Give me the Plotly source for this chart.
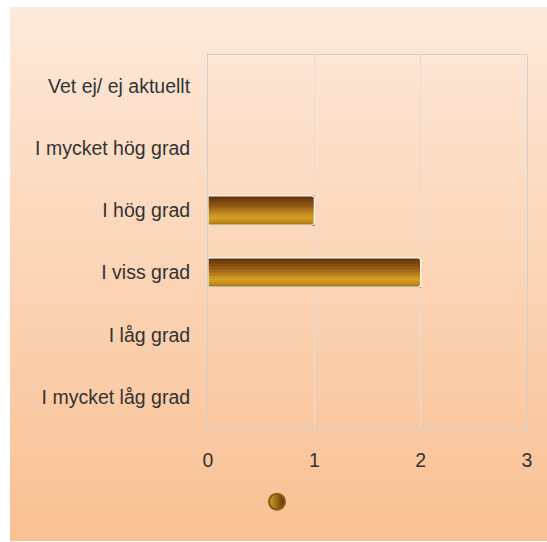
import zlib, struct, base64
import plotly.graph_objects as go

# ---- data ----
categories = ["I mycket låg grad", "I låg grad", "I viss grad",
              "I hög grad", "I mycket hög grad", "Vet ej/ ej aktuellt"]
values = [0, 0, 2, 1, 0, 0]
x_tickvals = [0, 1, 2, 3]

# ---- layout geometry (body margin removed by post_script) ----
OFF = 0
W, H = 547 - OFF, 542 - OFF
L, R, T, B = 208 - OFF, 547 - 527, 55 - OFF, 542 - 428
pw, ph = W - L - R, H - T - B


def lerp(c1, c2, t):
    return tuple(int(round(a + (b - a) * t)) for a, b in zip(c1, c2))


def grad(stops, t):
    for (t0, c0), (t1, c1) in zip(stops, stops[1:]):
        if t <= t1:
            return lerp(c0, c1, (t - t0) / (t1 - t0) if t1 > t0 else 0)
    return stops[-1][1]


# background gradient image (1 x N png)
bg_top, bg_bot = (253, 233, 218), (249, 192, 146)
NROW = 256
rows = [lerp(bg_top, bg_bot, i / (NROW - 1)) for i in range(NROW)]
raw = b"".join(b"\x00" + bytes(c) for c in rows)


def chunk(tag, data):
    return struct.pack(">I", len(data)) + tag + data + struct.pack(">I", zlib.crc32(tag + data) & 0xffffffff)


png = (b"\x89PNG\r\n\x1a\n" + chunk(b"IHDR", struct.pack(">IIBBBBB", 1, NROW, 8, 2, 0, 0, 0))
       + chunk(b"IDAT", zlib.compress(raw)) + chunk(b"IEND", b""))
bg_uri = "data:image/png;base64," + base64.b64encode(png).decode()

# screen pixel -> paper coords
px2x = lambda p: (p - OFF - L) / pw
px2y = lambda p: (H - B - (p - OFF)) / ph

fig = go.Figure()

# bar vertical gradient, top -> bottom
bar_stops = [(0.0, (96, 48, 10)), (0.35, (150, 92, 20)), (0.72, (214, 160, 36)),
             (0.86, (196, 142, 28)), (1.0, (140, 92, 14))]
N = 20
bar_w = 0.47
sw = bar_w / N
for i in range(N):
    t_from_top = 1 - (i + 0.5) / N
    c = grad(bar_stops, t_from_top)
    fig.add_trace(go.Bar(
        y=categories, x=values, orientation="h",
        width=sw * 1.05, offset=-bar_w / 2 + i * sw,
        marker=dict(color="rgb(%d,%d,%d)" % c, line=dict(width=0)),
        showlegend=False, hoverinfo="skip"))

fig.add_trace(go.Bar(
    y=categories, x=values, orientation="h",
    width=bar_w, offset=-bar_w / 2,
    marker=dict(color="rgba(0,0,0,0)",
                line=dict(color=["white" if v else "rgba(0,0,0,0)" for v in values], width=1.2),
                cornerradius=3),
    showlegend=False))

fig.add_trace(go.Scatter(
    x=[None], y=[None], mode="markers", name="",
    marker=dict(symbol="circle", size=20, color="#d4a020",
                line=dict(color="#8a5a12", width=2),
                gradient=dict(type="horizontal", color="#5a3008"))))

font = dict(family="Liberation Sans, Arial, sans-serif", size=19.5, color="#333333")

fig.update_layout(
    width=W, height=H,
    margin=dict(l=L, r=R, t=T, b=B, pad=0),
    paper_bgcolor="white", plot_bgcolor="rgba(0,0,0,0)",
    barmode="overlay", font=font,
    images=[dict(source=bg_uri, xref="paper", yref="paper",
                 x=px2x(10), y=px2y(7), sizex=px2x(560) - px2x(10), sizey=px2y(7) - px2y(541),
                 xanchor="left", yanchor="top", sizing="stretch", layer="below")],
    xaxis=dict(range=[0, 3], tickvals=x_tickvals, showgrid=True, gridcolor="#dedede", gridwidth=1,
               zeroline=False, showline=True, mirror=True, linecolor="#d0d0d0", linewidth=1,
               ticks="", ticklabelstandoff=15, tickfont=font),
    yaxis=dict(range=[-0.5, 5.5], categoryorder="array", categoryarray=categories,
               showgrid=False, zeroline=False, showline=True, mirror=True,
               linecolor="#d0d0d0", linewidth=1, ticks="", ticklabelstandoff=13, tickfont=font),
    showlegend=True,
    legend=dict(orientation="h", x=px2x(277 - 20), y=px2y(502), xanchor="left", yanchor="middle",
                bgcolor="rgba(0,0,0,0)", font=font),
)

fig.write_html("out.html", config={"displayModeBar": False}, post_script=(
    "document.body.style.margin='0';"
    "document.documentElement.style.overflow='hidden';"
    "document.body.style.overflow='hidden';"))
